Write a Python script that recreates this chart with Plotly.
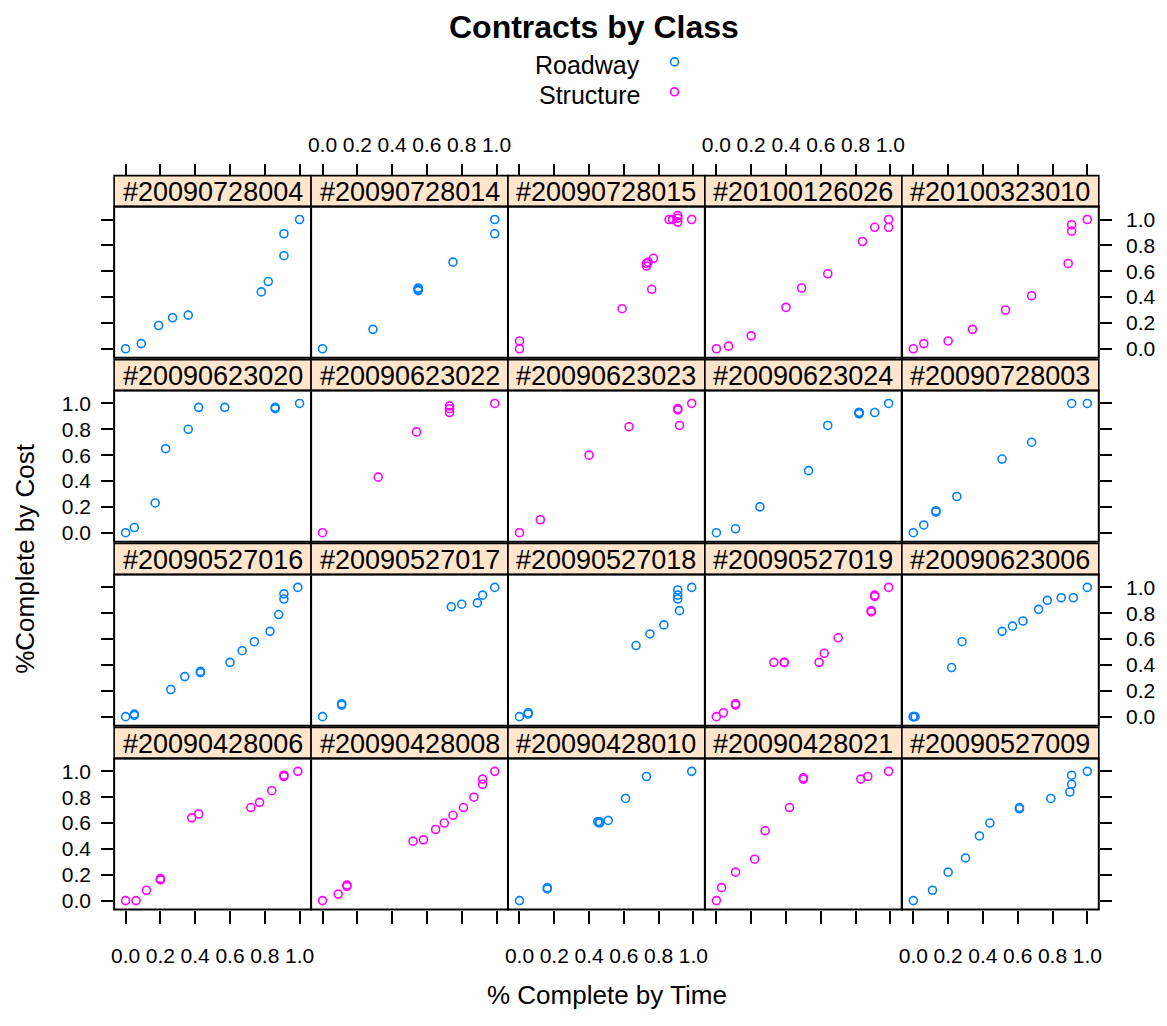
import plotly.graph_objects as go

# Contracts in panel order (left to right, top to bottom)
contracts = [
    "20090728004", "20090728014", "20090728015", "20100126026", "20100323010",
    "20090623020", "20090623022", "20090623023", "20090623024", "20090728003",
    "20090527016", "20090527017", "20090527018", "20090527019", "20090623006",
    "20090428006", "20090428008", "20090428010", "20090428021", "20090527009",
]
contract_class = [
    "Roadway", "Roadway", "Structure", "Structure", "Structure",
    "Roadway", "Structure", "Structure", "Roadway", "Roadway",
    "Roadway", "Roadway", "Roadway", "Structure", "Roadway",
    "Structure", "Structure", "Roadway", "Structure", "Roadway",
]
class_names = ["Roadway", "Structure"]
class_colors = ["#0080ff", "#ff00ff"]

# % complete by time / % complete by cost, one pair of lists per contract
time_20090728004 = [0.0, 0.09, 0.19, 0.27, 0.36, 0.78, 0.82, 0.91, 0.91, 1.0]
cost_20090728004 = [0.0, 0.04, 0.18, 0.24, 0.26, 0.44, 0.52, 0.72, 0.89, 1.0]
time_20090728014 = [0.0, 0.29, 0.55, 0.55, 0.55, 0.75, 0.99, 0.99]
cost_20090728014 = [0.0, 0.15, 0.47, 0.46, 0.45, 0.67, 0.89, 1.0]
time_20090728015 = [0.0, 0.0, 0.59, 0.76, 0.73, 0.73, 0.74, 0.77, 0.86, 0.88, 0.91, 0.91, 0.91, 0.99]
cost_20090728015 = [0.0, 0.06, 0.31, 0.46, 0.66, 0.64, 0.67, 0.70, 1.0, 1.0, 1.01, 1.03, 0.98, 1.0]
time_20100126026 = [0.0, 0.07, 0.20, 0.40, 0.49, 0.64, 0.84, 0.91, 0.99, 0.99]
cost_20100126026 = [0.0, 0.02, 0.10, 0.32, 0.47, 0.58, 0.83, 0.94, 0.94, 1.0]
time_20100323010 = [0.0, 0.06, 0.20, 0.34, 0.53, 0.68, 0.89, 0.91, 0.91, 1.0]
cost_20100323010 = [0.0, 0.04, 0.06, 0.15, 0.30, 0.41, 0.66, 0.91, 0.96, 1.0]

time_20090623020 = [0.0, 0.05, 0.17, 0.23, 0.36, 0.42, 0.57, 0.86, 0.86, 1.0]
cost_20090623020 = [0.0, 0.04, 0.23, 0.65, 0.80, 0.97, 0.97, 0.97, 0.96, 1.0]
time_20090623022 = [0.0, 0.32, 0.54, 0.73, 0.73, 0.73, 0.99]
cost_20090623022 = [0.0, 0.43, 0.78, 0.98, 0.96, 0.93, 1.0]
time_20090623023 = [0.0, 0.12, 0.40, 0.63, 0.91, 0.91, 0.92, 0.99]
cost_20090623023 = [0.0, 0.10, 0.60, 0.82, 0.96, 0.95, 0.83, 1.0]
time_20090623024 = [0.0, 0.11, 0.25, 0.53, 0.64, 0.82, 0.82, 0.82, 0.91, 0.99]
cost_20090623024 = [0.0, 0.03, 0.20, 0.48, 0.83, 0.93, 0.92, 0.93, 0.93, 1.0]
time_20090728003 = [0.0, 0.06, 0.13, 0.13, 0.25, 0.51, 0.68, 0.91, 1.0]
cost_20090728003 = [0.0, 0.06, 0.17, 0.16, 0.28, 0.57, 0.70, 1.0, 1.0]

time_20090527016 = [0.0, 0.05, 0.05, 0.26, 0.34, 0.43, 0.43, 0.60, 0.67, 0.74, 0.83, 0.88, 0.91, 0.91, 0.99]
cost_20090527016 = [0.0, 0.02, 0.01, 0.21, 0.31, 0.35, 0.34, 0.42, 0.51, 0.58, 0.66, 0.79, 0.91, 0.95, 1.0]
time_20090527017 = [0.0, 0.11, 0.11, 0.74, 0.80, 0.89, 0.92, 0.99]
cost_20090527017 = [0.0, 0.10, 0.09, 0.85, 0.87, 0.88, 0.94, 1.0]
time_20090527018 = [0.0, 0.05, 0.05, 0.67, 0.75, 0.83, 0.92, 0.91, 0.91, 0.91, 0.99]
cost_20090527018 = [0.0, 0.03, 0.02, 0.55, 0.64, 0.71, 0.82, 0.91, 0.94, 0.98, 1.0]
time_20090527019 = [0.0, 0.04, 0.11, 0.11, 0.33, 0.39, 0.39, 0.59, 0.62, 0.70, 0.89, 0.89, 0.91, 0.91, 0.99]
cost_20090527019 = [0.0, 0.03, 0.09, 0.10, 0.42, 0.42, 0.42, 0.42, 0.49, 0.61, 0.82, 0.81, 0.94, 0.93, 1.0]
time_20090623006 = [0.0, 0.0, 0.01, 0.22, 0.28, 0.51, 0.57, 0.63, 0.72, 0.77, 0.85, 0.92, 1.0]
cost_20090623006 = [0.0, 0.0, 0.0, 0.38, 0.58, 0.66, 0.70, 0.74, 0.83, 0.90, 0.92, 0.92, 1.0]

time_20090428006 = [0.0, 0.06, 0.12, 0.20, 0.20, 0.38, 0.42, 0.72, 0.77, 0.84, 0.91, 0.91, 0.99]
cost_20090428006 = [0.0, 0.0, 0.08, 0.17, 0.16, 0.64, 0.67, 0.72, 0.76, 0.85, 0.96, 0.97, 1.0]
time_20090428008 = [0.0, 0.09, 0.14, 0.14, 0.52, 0.58, 0.65, 0.70, 0.75, 0.81, 0.87, 0.92, 0.92, 0.99]
cost_20090428008 = [0.0, 0.05, 0.11, 0.12, 0.46, 0.47, 0.55, 0.60, 0.66, 0.72, 0.80, 0.90, 0.94, 1.0]
time_20090428010 = [0.0, 0.16, 0.16, 0.46, 0.46, 0.45, 0.51, 0.61, 0.73, 0.99]
cost_20090428010 = [0.0, 0.09, 0.10, 0.61, 0.60, 0.61, 0.62, 0.79, 0.96, 1.0]
time_20090428021 = [0.0, 0.03, 0.11, 0.22, 0.28, 0.42, 0.50, 0.50, 0.83, 0.87, 0.99]
cost_20090428021 = [0.0, 0.10, 0.22, 0.32, 0.54, 0.72, 0.94, 0.95, 0.94, 0.96, 1.0]
time_20090527009 = [0.0, 0.11, 0.20, 0.30, 0.38, 0.44, 0.61, 0.61, 0.79, 0.90, 0.91, 0.91, 1.0]
cost_20090527009 = [0.0, 0.08, 0.22, 0.33, 0.50, 0.60, 0.71, 0.72, 0.79, 0.84, 0.90, 0.97, 1.0]

pct_time = [globals()["time_" + c] for c in contracts]
pct_cost = [globals()["cost_" + c] for c in contracts]

tick_vals = [0.0, 0.2, 0.4, 0.6, 0.8, 1.0]
tick_text = ["0.0", "0.2", "0.4", "0.6", "0.8", "1.0"]
x_range = [-0.066, 1.066]
y_range = [-0.07, 1.10]

# ---- page geometry (pixels) ----
W, H = 1167, 1026
N_COLS, N_ROWS = 5, 4
COL_LEFT0, COL_W = 111.7, 197.95
ROW_TOP0, ROW_PITCH = 176.0, 184.3
STRIP_H, PANEL_H = 31.0, 182.5

FONT = "Liberation Sans, Arial, Helvetica, sans-serif"
TICK_FONT = dict(family=FONT, size=21, color="black")
STRIP_BG = "#ffe5cc"


def fx(p):
    return p / W


def fy(p):
    return 1 - p / H


fig = go.Figure()
shapes = []
annotations = []
layout_axes = {}

for i, name in enumerate(contracts):
    r, c = divmod(i, N_COLS)
    left = COL_LEFT0 + COL_W * c
    right = left + COL_W
    top = ROW_TOP0 + ROW_PITCH * r
    strip_bot = top + STRIP_H
    bot = top + PANEL_H

    k = "" if i == 0 else str(i + 1)
    color = class_colors[class_names.index(contract_class[i])]

    fig.add_trace(go.Scatter(
        x=pct_time[i], y=pct_cost[i], mode="markers",
        marker=dict(symbol="circle-open", size=8, color=color,
                    line=dict(width=1.6, color=color)),
        xaxis="x" + k, yaxis="y" + k, showlegend=False,
        name=contract_class[i], cliponaxis=False,
    ))

    xa = dict(domain=[fx(left), fx(right)], range=x_range, showgrid=False,
              zeroline=False, showline=False, tickvals=tick_vals, ticktext=tick_text,
              tickfont=TICK_FONT, fixedrange=True)
    ya = dict(domain=[fy(bot), fy(strip_bot)], range=y_range, showgrid=False,
              zeroline=False, showline=False, tickvals=tick_vals, ticktext=tick_text,
              tickfont=TICK_FONT, fixedrange=True, anchor="x" + k)

    if r == 0:
        # top axis sits above the strip
        xa.update(side="top", anchor="free", position=fy(top), ticks="outside",
                  ticklen=12, tickwidth=1.5, tickcolor="black",
                  showticklabels=(c % 2 == 1), ticklabelstandoff=3)
    elif r == N_ROWS - 1:
        xa.update(side="bottom", anchor="y" + k, ticks="outside", ticklen=13,
                  tickwidth=1.5, tickcolor="black",
                  showticklabels=(c % 2 == 0), ticklabelstandoff=14)
    else:
        xa.update(anchor="y" + k, ticks="", showticklabels=False)

    if c == 0:
        ya.update(side="left", ticks="outside", ticklen=12, tickwidth=1.5,
                  tickcolor="black", showticklabels=(r % 2 == 1), ticklabelstandoff=6)
    elif c == N_COLS - 1:
        ya.update(side="right", ticks="outside", ticklen=12, tickwidth=1.5,
                  tickcolor="black", showticklabels=(r % 2 == 0), ticklabelstandoff=10)
    else:
        ya.update(ticks="", showticklabels=False)

    layout_axes["xaxis" + k] = xa
    layout_axes["yaxis" + k] = ya

    # strip
    shapes.append(dict(type="rect", xref="paper", yref="paper",
                       x0=fx(left), x1=fx(right), y0=fy(strip_bot), y1=fy(top),
                       fillcolor=STRIP_BG, line=dict(color="black", width=1.6),
                       layer="below"))
    # panel border
    shapes.append(dict(type="rect", xref="paper", yref="paper",
                       x0=fx(left), x1=fx(right), y0=fy(bot), y1=fy(strip_bot),
                       fillcolor="rgba(0,0,0,0)", line=dict(color="black", width=2)))
    annotations.append(dict(text="#" + name, xref="paper", yref="paper",
                            x=fx((left + right) / 2), y=fy((top + strip_bot) / 2 + 1),
                            xanchor="center", yanchor="middle", showarrow=False,
                            font=dict(family=FONT, size=27, color="black")))

# title, axis titles
annotations.append(dict(text="<b>Contracts by Class</b>", xref="paper", yref="paper",
                        x=fx(594), y=fy(27), xanchor="center", yanchor="middle",
                        showarrow=False, font=dict(family=FONT, size=32, color="black")))
annotations.append(dict(text="% Complete by Time", xref="paper", yref="paper",
                        x=fx(607), y=fy(997), xanchor="center", yanchor="middle",
                        showarrow=False, font=dict(family=FONT, size=26, color="black")))
annotations.append(dict(text="%Complete by Cost", xref="paper", yref="paper",
                        x=fx(22), y=fy(559), xanchor="center", yanchor="middle",
                        textangle=-90, showarrow=False,
                        font=dict(family=FONT, size=26, color="black")))

# key: label then symbol
key_y = [64, 94]
for j, cname in enumerate(class_names):
    annotations.append(dict(text=cname, xref="paper", yref="paper",
                            x=fx(642), y=fy(key_y[j] + 1), xanchor="right", yanchor="middle",
                            showarrow=False, font=dict(family=FONT, size=25, color="black")))
    cy = key_y[j] - 2
    shapes.append(dict(type="circle", xref="paper", yref="paper",
                       x0=fx(675 - 4), x1=fx(675 + 4), y0=fy(cy + 4), y1=fy(cy - 4),
                       line=dict(color=class_colors[j], width=1.6)))

fig.update_layout(
    width=W, height=H, autosize=False,
    margin=dict(l=0, r=0, t=0, b=0),
    paper_bgcolor="white", plot_bgcolor="rgba(0,0,0,0)",
    showlegend=False, shapes=shapes, annotations=annotations,
    font=dict(family=FONT, color="black"),
    **layout_axes,
)

fig.write_html("out.html", config={"displayModeBar": False})
